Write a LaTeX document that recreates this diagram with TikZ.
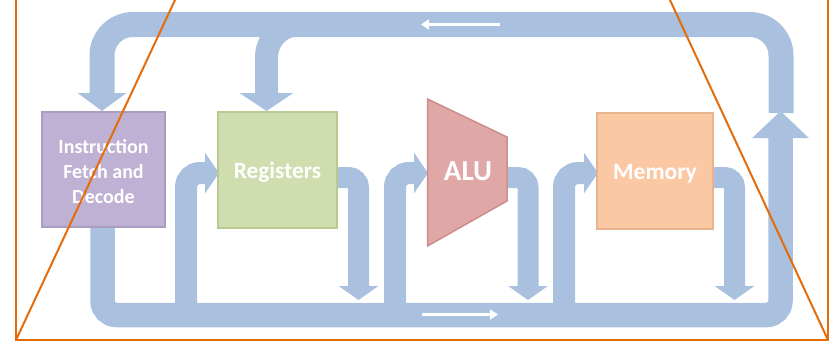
\documentclass[tikz,border=0pt]{standalone}
\usepackage{fontspec}
\setmainfont{Carlito}
\usetikzlibrary{arrows.meta}
\definecolor{bandc}{RGB}{169,192,222}
\definecolor{ifdfill}{RGB}{191,177,211}
\definecolor{ifdline}{RGB}{170,156,192}
\definecolor{regfill}{RGB}{208,222,175}
\definecolor{regline}{RGB}{184,202,146}
\definecolor{alufill}{RGB}{223,167,166}
\definecolor{alulinec}{RGB}{204,142,141}
\definecolor{memfill}{RGB}{250,201,163}
\definecolor{memline}{RGB}{231,180,141}
\definecolor{frameor}{RGB}{228,108,10}
\tikzset{
  band/.style={draw=bandc},
  inarrow/.style={band, line width=22pt, rounded corners=14pt, -{Triangle[length=14pt,width=40pt]}},
  outarrow/.style={band, line width=21pt, rounded corners=10pt, -{Triangle[length=14pt,width=39pt]}},
  whitearrow/.style={draw=white, line width=3.5pt, -{Triangle[length=8pt,width=10pt]}},
  unit/.style={inner sep=0pt, line width=1.5pt},
  lbl/.style={inner sep=0pt, text=white, align=center},
  frameline/.style={draw=frameor, line width=2pt}
}
\begin{document}
\begin{tikzpicture}[x=1pt,y=-1pt]
\useasboundingbox (0,0) rectangle (831,341);
% bottom loop
\draw[band, line width=24.5pt, rounded corners=14pt, -{Triangle[length=27pt,width=55pt]}]
  (102.5,215) -- (102.5,315) -- (780.5,315) -- (780.5,111);
% top loop
\draw[band, line width=25pt, rounded corners=31pt, -{Triangle[length=18pt,width=48pt]}]
  (781,113) -- (781,24.5) -- (102,24.5) -- (102,111);
% branch to registers
\draw[band, line width=23pt, rounded corners=33pt, -{Triangle[length=18pt,width=53pt]}]
  (320,24.5) -- (266.5,24.5) -- (266.5,111);
% incoming arrows
\draw[inarrow] (186,315) -- (186,173) -- (219,173);
\draw[inarrow] (395,315) -- (395,173) -- (428,173);
\draw[inarrow] (564,315) -- (564,173) -- (598,173);
% outgoing arrows
\draw[outarrow] (320,177.5) -- (358.5,177.5) -- (358.5,300);
\draw[outarrow] (495,177.5) -- (528,177.5) -- (528,300);
\draw[outarrow] (700,177.5) -- (734.5,177.5) -- (734.5,300);
% white direction arrows
\draw[whitearrow] (500,24.5) -- (421,24.5);
\draw[whitearrow] (422,314.5) -- (498,314.5);
% units
\node[unit, fill=ifdfill, draw=ifdline, minimum width=123pt, minimum height=115pt] (ifd) at (103.5,169.5) {};
\node[lbl, font=\bfseries\fontsize{20}{25}\selectfont] (ifdt) at (103.5,171.5) {Instruction\\Fetch and\\Decode};
\node[unit, fill=regfill, draw=regline, minimum width=119pt, minimum height=116pt] (reg) at (277.5,170) {};
\node[lbl, anchor=base, font=\bfseries\fontsize{23.3}{28}\selectfont] (regt) at (277.5,178) {Registers};
\draw[fill=alufill, draw=alulinec, line width=1.5pt] (427.5,99) -- (507,137) -- (507,201) -- (427.5,246) -- cycle;
\node[lbl, anchor=base, font=\bfseries\fontsize{29}{34}\selectfont] (alu) at (468,180.5) {ALU};
\node[unit, fill=memfill, draw=memline, minimum width=116pt, minimum height=116pt] (mem) at (655,171) {};
\node[lbl, anchor=base, font=\bfseries\fontsize{23.5}{28}\selectfont] (memt) at (655,179) {Memory};
% orange frame
\draw[frameline] (16,0) -- (16,341);
\draw[frameline] (828,0) -- (828,341);
\draw[frameline] (175,0) -- (16,340);
\draw[frameline] (670,0) -- (828,340);
\draw[draw=frameor, line width=1.5pt] (16,340) -- (828,340);
\end{tikzpicture}
\end{document}
